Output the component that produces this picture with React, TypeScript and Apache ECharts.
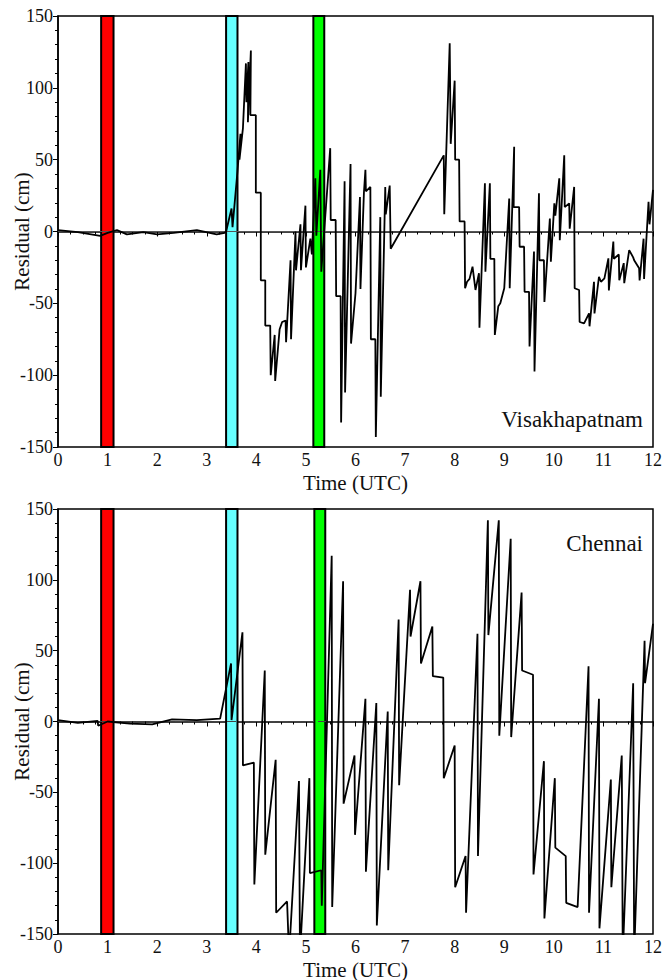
import React, { useEffect, useRef } from "react";
import * as echarts from "echarts";

// Tick values
const xTicks = [0, 12, 1];
const yTicks = [-150, 150, 50];

// Highlight bands (hours UTC)
const bandColors = ["#ff0000", "#66ffff", "#00ff00"];
const bandsTop: number[][] = [[0.87, 1.12], [3.39, 3.62], [5.15, 5.37]];
const bandsBottom: number[][] = [[0.87, 1.12], [3.39, 3.62], [5.17, 5.39]];

// Visakhapatnam residual (time h, cm)
const visakhapatnam: number[][] = [
  [0, 1], [0.4, -0.5], [0.85, -3], [1.0, -1], [1.19, 1], [1.39, -2], [1.72, -0.5], [2.0, -2],
  [2.33, -1], [2.8, 1], [3.2, -2], [3.36, -1], [3.39, 0], [3.5, 16], [3.52, 3], [3.62, 42],
  [3.68, 68], [3.66, 50], [3.73, 72], [3.79, 117], [3.8, 90], [3.84, 118], [3.83, 76],
  [3.89, 126], [3.88, 81], [3.99, 81], [3.99, 27], [4.09, 27], [4.09, -34], [4.18, -34],
  [4.18, -65.5], [4.28, -65.5], [4.29, -100], [4.37, -72], [4.38, -104], [4.47, -68],
  [4.52, -63], [4.59, -62], [4.6, -77], [4.69, -20], [4.7, -75], [4.79, 0], [4.8, -27],
  [4.89, 5], [4.9, -27], [4.99, 18], [5.0, -25], [5.09, -5], [5.12, -16], [5.19, 37],
  [5.21, -3], [5.29, 43], [5.31, -28], [5.41, 20], [5.49, 58], [5.5, 8], [5.6, 8],
  [5.61, -45], [5.7, -45], [5.71, -133], [5.78, 35], [5.79, -112], [5.9, 47], [5.91, -78],
  [6.0, -43], [6.09, 24], [6.1, -40], [6.17, 27], [6.2, 43], [6.21, 28], [6.3, 31],
  [6.31, -75], [6.4, -75], [6.41, -143], [6.5, 10], [6.51, -115], [6.6, 31], [6.61, 12],
  [6.69, 32], [6.71, -12], [7.78, 53], [7.79, 12], [7.9, 131], [7.92, 61], [8.0, 105],
  [8.01, 50], [8.09, 50], [8.1, 7], [8.2, 7], [8.21, -39.5], [8.25, -35], [8.3, -33],
  [8.36, -24.5], [8.42, -40.7], [8.49, -29], [8.5, -67], [8.61, 33.5], [8.62, -28],
  [8.71, 33.5], [8.72, -19], [8.8, -19], [8.81, -72], [8.88, -52], [8.92, -50], [9.0, -39.5],
  [9.1, 23], [9.11, -39.5], [9.2, 59], [9.19, 17], [9.3, 17], [9.31, -10.6], [9.4, -10.6],
  [9.41, -42], [9.5, -42], [9.51, -80], [9.6, -14], [9.61, -97.5], [9.7, 26.6], [9.71, -20],
  [9.8, -20], [9.81, -49], [9.92, 9], [9.94, -21], [10.01, 19.6], [10.03, 11], [10.11, 37],
  [10.12, -6], [10.21, 53], [10.22, 17], [10.31, 19.6], [10.32, 2], [10.41, 31], [10.42, -39.5],
  [10.51, -40.7], [10.52, -63], [10.61, -64], [10.71, -57], [10.72, -66], [10.81, -35],
  [10.82, -57], [10.91, -31.5], [10.95, -35], [11.02, -32.6], [11.1, -18.7], [11.11, -41],
  [11.2, -7], [11.21, -19], [11.31, -16], [11.32, -34], [11.41, -22], [11.42, -36],
  [11.52, -13], [11.6, -18], [11.62, -20], [11.72, -25.6], [11.73, -34], [11.81, -5],
  [11.82, -33], [11.91, 20.7], [11.93, 5], [12.0, 29],
];

// Chennai residual (time h, cm)
const chennai: number[][] = [
  [0, 1], [0.4, -1], [0.8, 0.5], [0.81, -3], [1.0, 0], [1.45, -1.5], [1.9, -2], [2.3, 1.5],
  [2.8, 1], [3.27, 2], [3.49, 41], [3.5, 1], [3.72, 63], [3.73, -31], [3.95, -29], [3.96, -115],
  [4.17, 36], [4.18, -94], [4.39, -27], [4.4, -135], [4.62, -127], [4.66, -165], [4.86, -42],
  [4.88, -165], [5.07, -40], [5.08, -107], [5.31, -105], [5.32, -130], [5.52, 117],
  [5.53, -131], [5.75, 99], [5.76, -58], [5.98, -24], [5.99, -80], [6.2, 16], [6.21, -106],
  [6.42, 13], [6.43, -144], [6.65, 7], [6.66, -105], [6.87, 72], [6.88, -45], [7.1, 93],
  [7.11, 60], [7.31, 99], [7.32, 41], [7.55, 67], [7.56, 32], [7.77, 31], [7.78, -40],
  [8.0, -17], [8.01, -117], [8.22, -95], [8.23, -135], [8.46, 62], [8.47, -95], [8.67, 142],
  [8.68, 61], [8.89, 142], [8.9, -10], [9.13, 129], [9.14, -11], [9.35, 91], [9.36, 36],
  [9.58, 33], [9.59, -108], [9.8, -28], [9.81, -139], [10.02, -40], [10.03, -89], [10.24, -95],
  [10.25, -128], [10.48, -131], [10.7, 39], [10.71, -135], [10.91, 16], [10.92, -146],
  [11.15, -41], [11.16, -117], [11.37, -24], [11.39, -165], [11.6, 27], [11.62, -165],
  [11.83, 57], [11.84, 27], [12.0, 69],
];

const stationNames = ["Visakhapatnam", "Chennai"];
const xName = "Time (UTC)";
const yName = "Residual (cm)";

const FONT = "Liberation Serif";

export default function App() {
  const ref = useRef<HTMLDivElement>(null);
  useEffect(() => {
    if (!ref.current) return;
    const chart = echarts.init(ref.current, null, { renderer: "svg" });
    const grids = [
      { left: 58, top: 16, width: 595, height: 431 },
      { left: 58, top: 509, width: 595, height: 425 },
    ];
    const mkX = (i: number) => ({
      type: "value",
      gridIndex: i,
      min: xTicks[0],
      max: xTicks[1],
      interval: xTicks[2],
      name: xName,
      nameLocation: "middle",
      nameGap: 25,
      nameMoveOverlap: false,
      nameTextStyle: { fontFamily: FONT, fontSize: 21, color: "#111" },
      axisLine: { lineStyle: { color: "#000", width: 1.5 } },
      axisTick: { show: true, length: 5, lineStyle: { color: "#000", width: 1 } },
      minorTick: { show: true, splitNumber: 4, length: 3, lineStyle: { color: "#000", width: 1 } },
      axisLabel: { fontFamily: FONT, fontSize: 18, color: "#111", margin: 4 },
      splitLine: { show: false },
    });
    const mkY = (i: number) => ({
      type: "value",
      gridIndex: i,
      min: yTicks[0],
      max: yTicks[1],
      interval: yTicks[2],
      name: yName,
      nameLocation: "middle",
      nameGap: 26,
      nameMoveOverlap: false,
      nameTextStyle: { fontFamily: FONT, fontSize: 21, color: "#111" },
      axisLine: { lineStyle: { color: "#000", width: 1.5 } },
      axisTick: { show: true, length: 5, lineStyle: { color: "#000", width: 1 } },
      minorTick: { show: true, splitNumber: 5, length: 3, lineStyle: { color: "#000", width: 1 } },
      axisLabel: { fontFamily: FONT, fontSize: 18, color: "#111", margin: 5 },
      splitLine: { show: false },
    });
    const bandSeries = (i: number, bands: number[][]) => ({
      type: "line",
      xAxisIndex: i,
      yAxisIndex: i,
      data: [],
      z: 1,
      silent: true,
      markArea: {
        silent: true,
        data: bands.map((b, k) => [
          { xAxis: b[0], itemStyle: { color: bandColors[k], borderColor: "#000", borderWidth: 2 } },
          { xAxis: b[1] },
        ]),
      },
    });
    const dataSeries = (i: number, d: number[][], lines: any[]) => ({
      type: "line",
      xAxisIndex: i,
      yAxisIndex: i,
      data: d,
      showSymbol: false,
      symbol: "none",
      clip: true,
      z: 5,
      lineStyle: { color: "#000", width: 1.8 },
      markLine: {
        silent: true,
        symbol: "none",
        label: { show: false },
        data: lines,
      },
    });
    const dashed = { type: [9, 4], color: "#444", width: 1 };
    const solid = { type: "solid", color: "#555", width: 1 };
    const topLines = [
      [{ coord: [0, 0], lineStyle: dashed }, { coord: [12, 0] }],
      [{ coord: [0, 0], lineStyle: solid }, { coord: [6.72, 0] }],
      [{ coord: [7.8, 0], lineStyle: solid }, { coord: [12, 0] }],
    ];
    const bottomLines = [[{ coord: [0, 0], lineStyle: dashed }, { coord: [12, 0] }]];

    chart.setOption({
      animation: false,
      backgroundColor: "#fff",
      grid: grids.map((g) => ({
        ...g,
        containLabel: false,
        outerBoundsMode: "none",
        show: true,
        borderColor: "#000",
        borderWidth: 1.5,
        backgroundColor: "transparent",
      })),
      xAxis: [mkX(0), mkX(1)],
      yAxis: [mkY(0), mkY(1)],
      series: [
        bandSeries(0, bandsTop),
        bandSeries(1, bandsBottom),
        dataSeries(0, visakhapatnam, topLines),
        dataSeries(1, chennai, bottomLines),
      ],
      graphic: [
        {
          type: "text",
          right: 28,
          top: 408,
          style: { text: stationNames[0], fontFamily: FONT, fontSize: 23, fill: "#111" },
        },
        {
          type: "text",
          right: 28,
          top: 532,
          style: { text: stationNames[1], fontFamily: FONT, fontSize: 23, fill: "#111" },
        },
      ],
    });
    return () => chart.dispose();
  }, []);
  return (
    <div
      ref={ref}
      style={{ position: "absolute", left: 0, top: 0, width: 671, height: 980, background: "#fff" }}
    />
  );
}
